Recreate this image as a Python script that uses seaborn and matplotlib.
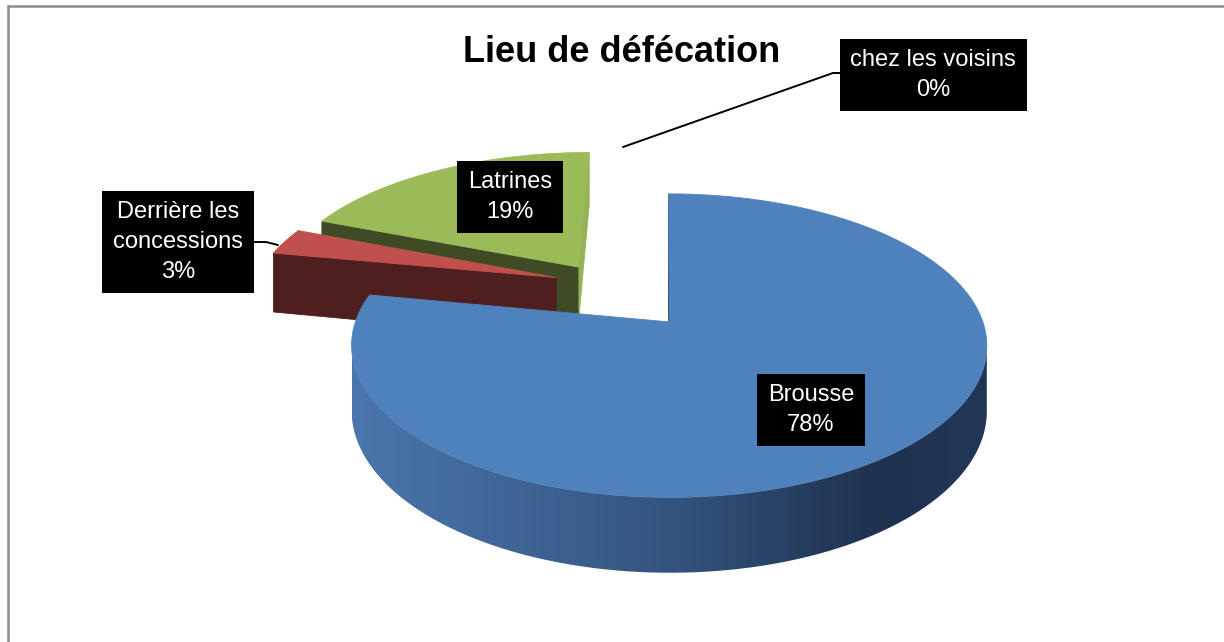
import numpy as np
import matplotlib
matplotlib.use("Agg")
import matplotlib.pyplot as plt
from matplotlib.patches import Polygon
from matplotlib.colors import LinearSegmentedColormap
import seaborn as sns

# ---------------- data ----------------
categories = ["Brousse", "Derrière les concessions", "Latrines", "chez les voisins"]
values = [78, 3, 19, 0]
display_labels = ["Brousse", "Derrière les\nconcessions", "Latrines", "chez les voisins"]
chart_title = "Lieu de défécation"

# ---------------- style ----------------
sns.set_theme(style="white")
plt.rcParams["font.family"] = ["Liberation Sans", "DejaVu Sans"]

explode = [0.35, 0.16, 0.15, 0.0]
top_colors = ["#4F81BD", "#C0504D", "#9BBB59", "#8064A2"]
lo_face_colors = ["#2B4770", "#8A3A38", "#93B356", "#5A4878"]
hi_face_colors = ["#1F3350", "#4E1F1E", "#3E4B24", "#4B3B62"]
wall_cmap = LinearSegmentedColormap.from_list(
    "wall", [(0.0, "#4A76AD"), (0.5, "#34547F"), (0.82, "#1F3250"), (1.0, "#223756")])
label_pos = [(811, 410), (178, 242), (510, 197), (933, 75)]

# projection (perspective view of the pie)
PX, PY = 665.0, 283.6
CAM_U = 0.21
RX, RY, K, DEPTH = 301.0, 136.3, 0.15, 61.0
CAM = np.array([CAM_U, -1.0 / K])


def proj(u, v, z=0.0):
    u = np.asarray(u, float)
    v = np.asarray(v, float)
    w = 1 + K * v
    return PX + RX * (u - CAM_U) / w, PY - RY * v / w + z * DEPTH / w


fig = plt.figure(figsize=(12.24, 6.42), dpi=100)
ax = fig.add_axes([0, 0, 1, 1])
ax.set_xlim(0, 1224)
ax.set_ylim(642, 0)
ax.axis("off")

# chart frame (left and top edges visible)
ax.plot([8, 8, 1400], [900, 6, 6], color="#8C8C8C", lw=1.8, zorder=0,
        solid_joinstyle="miter")

fracs = np.array(values, float) / np.sum(values)
a_hi = 90 - 360 * np.concatenate([[0], np.cumsum(fracs)[:-1]])
a_lo = a_hi - 360 * fracs
mid = np.radians((a_lo + a_hi) / 2)
centres = np.array([[e * np.cos(m), e * np.sin(m)] for e, m in zip(explode, mid)])

order = sorted(range(len(values)),
               key=lambda i: -(centres[i][1] + 0.5 * np.sin(mid[i]) * (fracs[i] > 0)))

zc = 2
for i in order:
    if fracs[i] <= 0:
        continue
    cu, cv = centres[i]
    t = np.radians(np.linspace(a_lo[i], a_hi[i], 400))
    au, av = cu + np.cos(t), cv + np.sin(t)

    # radial walls
    for ang, sign, col in ((a_lo[i], -1, lo_face_colors[i]), (a_hi[i], 1, hi_face_colors[i])):
        r = np.radians(ang)
        n = np.array([np.cos(r + sign * np.pi / 2), np.sin(r + sign * np.pi / 2)])
        if np.dot(CAM - np.array([cu, cv]), n) > 0:
            pu = [cu, cu + np.cos(r), cu + np.cos(r), cu]
            pv = [cv, cv + np.sin(r), cv + np.sin(r), cv]
            pz = [0, 0, 1, 1]
            xs, ys = zip(*[proj(a, b, c) for a, b, c in zip(pu, pv, pz)])
            ax.add_patch(Polygon(np.c_[xs, ys], closed=True, facecolor=col,
                                 edgecolor=col, lw=0.6, zorder=zc))

    # outer wall, only where facing the viewer
    vis = np.cos(t) * (CAM[0] - au) + np.sin(t) * (CAM[1] - av) > 0
    idx = np.where(vis)[0]
    if len(idx):
        runs = np.split(idx, np.where(np.diff(idx) != 1)[0] + 1)
        for run in runs:
            xt, yt = proj(au[run], av[run], 0)
            xb, yb = proj(au[run], av[run], 1)
            poly = np.r_[np.c_[xt, yt], np.c_[xb, yb][::-1]]
            if i == 0:
                patch = Polygon(poly, closed=True, facecolor="none", edgecolor="none", zorder=zc)
                ax.add_patch(patch)
                x0, x1 = poly[:, 0].min(), poly[:, 0].max()
                y0, y1 = poly[:, 1].min(), poly[:, 1].max()
                grad = np.linspace(0, 1, 256)[None, :]
                im = ax.imshow(grad, cmap=wall_cmap, extent=(x0, x1, y1, y0),
                               aspect="auto", zorder=zc, interpolation="bilinear")
                im.set_clip_path(patch)
            else:
                ax.add_patch(Polygon(poly, closed=True, facecolor=hi_face_colors[i],
                                     edgecolor=hi_face_colors[i], lw=0.6, zorder=zc))

    # top face
    xt, yt = proj(np.r_[cu, au], np.r_[cv, av], 0)
    ax.add_patch(Polygon(np.c_[xt, yt], closed=True, facecolor=top_colors[i],
                         edgecolor=top_colors[i], lw=0.6, zorder=zc + 1))
    zc += 2

ax.set_xlim(0, 1224)
ax.set_ylim(642, 0)

# leader lines
ax.plot([623, 833, 841], [147, 73, 73], color="black", lw=1.4, zorder=20)
ax.plot([252, 266, 278], [242, 242, 245], color="black", lw=1.4, zorder=20)

# labels
for lab, v, (x, y) in zip(display_labels, values, label_pos):
    ax.text(x, y, f"{lab}\n{v}%", ha="center", va="center", color="white",
            fontsize=17, linespacing=1.45, zorder=30,
            bbox=dict(boxstyle="square,pad=0.45", facecolor="black", edgecolor="none"))

ax.text(622, 52, chart_title, ha="center", va="center", fontsize=26,
        fontweight="bold", color="black", zorder=30)

fig.savefig("out.png", dpi=100)
